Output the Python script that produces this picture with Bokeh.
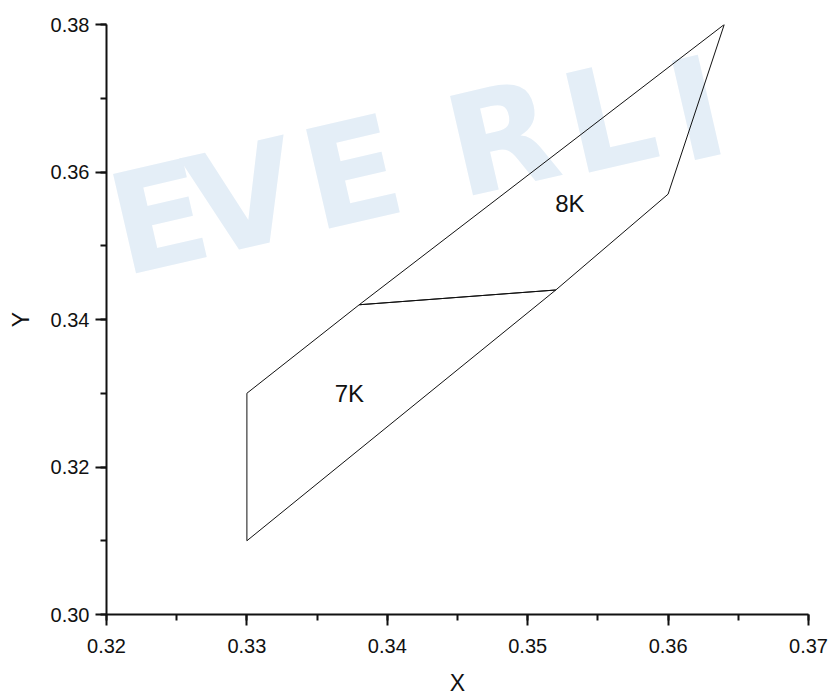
import math
from bokeh.plotting import figure
from bokeh.models import Range1d, SingleIntervalTicker, NumeralTickFormatter
from bokeh.core.properties import value
from bokeh.embed import file_html
from bokeh.resources import INLINE

# ---- data ----
bin7k_x = [0.330, 0.330, 0.338, 0.352, 0.330]
bin7k_y = [0.310, 0.330, 0.342, 0.344, 0.310]
bin8k_x = [0.338, 0.364, 0.360, 0.352, 0.338]
bin8k_y = [0.342, 0.380, 0.357, 0.344, 0.342]

label_text = ["7K", "8K"]
label_x = [0.3373, 0.3530]
label_y = [0.3300, 0.3557]

x_start, x_end = 0.32, 0.37
y_start, y_end = 0.30, 0.38

# faint watermark behind the chart (letters kept fully inside the plot area)
wm_letters = ["E", "V", "E", "R", "L", "I"]
wm_start_px = [112, 190, 305, 449, 565, 671]
wm_drop_px = [0, 0, 0, 0, 4, 16]

W, H = 828, 699
FL, FR, FT, FB = 106, 808, 24, 614

p = figure(width=W, height=H, x_range=Range1d(x_start, x_end), y_range=Range1d(y_start, y_end),
           output_backend="svg", toolbar_location=None,
           min_border_left=FL, min_border_right=W - FR, min_border_top=FT, min_border_bottom=H - FB)
p.outline_line_color = None
p.xgrid.visible = False
p.ygrid.visible = False
p.background_fill_color = "white"
p.border_fill_color = "white"

# watermark letters (screen pixel positions converted to data space)
ang = math.radians(13)
wm_x, wm_y = [], []
for sx, dd in zip(wm_start_px, wm_drop_px):
    sy = 233 - math.tan(ang) * (sx - 92) + dd
    wm_x.append(x_start + (sx - FL) / (FR - FL) * (x_end - x_start))
    wm_y.append(y_start + (FB - sy) / (FB - FT) * (y_end - y_start))
p.text(x=wm_x, y=wm_y, text=wm_letters, angle=ang, text_font=value("DejaVu Sans"),
       text_font_style="bold", text_font_size=value("140px"), text_color="#e4eef7",
       text_align="left", text_baseline="alphabetic", level="underlay")

p.patches([bin7k_x, bin8k_x], [bin7k_y, bin8k_y], fill_color=None,
          line_color="#111111", line_width=1)

p.text(x=label_x, y=label_y, text=label_text, text_font=value("Liberation Sans"),
       text_font_size=value("24px"), text_align="center", text_baseline="middle",
       text_color="#111111")

p.xaxis.ticker = SingleIntervalTicker(interval=0.01, num_minor_ticks=2)
p.yaxis.ticker = SingleIntervalTicker(interval=0.02, num_minor_ticks=2)
p.xaxis.formatter = NumeralTickFormatter(format="0.00")
p.yaxis.formatter = NumeralTickFormatter(format="0.00")
p.xaxis.axis_label = "X"
p.yaxis.axis_label = "Y"

for ax in (p.xaxis, p.yaxis):
    ax.axis_line_width = 2
    ax.axis_line_color = "#111111"
    ax.major_tick_line_width = 2
    ax.minor_tick_line_width = 2
    ax.major_tick_line_color = "#111111"
    ax.minor_tick_line_color = "#111111"
    ax.major_tick_in = 0
    ax.major_tick_out = 11
    ax.minor_tick_in = 0
    ax.minor_tick_out = 6
    ax.major_label_text_font = "Liberation Sans"
    ax.major_label_text_font_size = "20px"
    ax.major_label_text_color = "#111111"
    ax.axis_label_text_font = "Liberation Sans"
    ax.axis_label_text_font_size = "23px"
    ax.axis_label_text_font_style = "normal"
    ax.axis_label_text_color = "#111111"

p.xaxis.major_label_standoff = 13
p.xaxis.axis_label_standoff = 14
p.yaxis.major_label_standoff = 6
p.yaxis.axis_label_standoff = 14

open("out.html", "w").write(file_html(p, INLINE))
